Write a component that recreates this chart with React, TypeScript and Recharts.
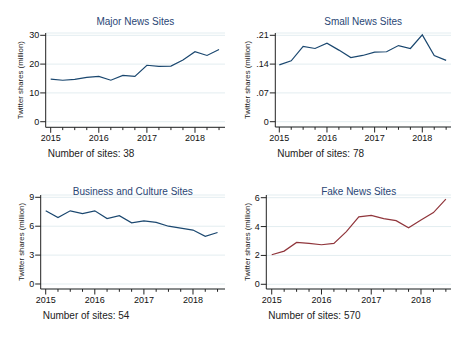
import { LineChart, Line, XAxis, YAxis, CartesianGrid } from "recharts";

const quarters = [
  2015, 2015.25, 2015.5, 2015.75, 2016, 2016.25, 2016.5, 2016.75, 2017,
  2017.25, 2017.5, 2017.75, 2018, 2018.25, 2018.5,
];

const majorShares = [14.8, 14.4, 14.7, 15.4, 15.75, 14.4, 16.1, 15.75, 19.6, 19.2, 19.3, 21.4, 24.3, 23.0, 25.1];
const smallShares = [0.138, 0.148, 0.183, 0.178, 0.191, 0.174, 0.156, 0.161, 0.169, 0.17, 0.185, 0.178, 0.211, 0.161, 0.149];
const businessShares = [7.6, 6.9, 7.6, 7.3, 7.6, 6.8, 7.1, 6.35, 6.55, 6.4, 6.0, 5.8, 5.6, 4.95, 5.35];
const fakeShares = [2.05, 2.3, 2.9, 2.83, 2.74, 2.83, 3.65, 4.67, 4.78, 4.55, 4.41, 3.92, 4.46, 4.97, 5.9];

const majorTicks = [0, 10, 20, 30];
const smallTicks = [0, 0.07, 0.14, 0.21];
const businessTicks = [0, 3, 6, 9];
const fakeTicks = [0, 2, 4, 6];

const FONT = "'Liberation Sans', Arial, sans-serif";
const BLUE = "#1a476f";
const RED = "#90353b";
const AXIS = "#222";

function XTick(props: any) {
  const { x, y, payload } = props;
  const major = Number.isInteger(payload.value);
  return (
    <g>
      <line x1={x} x2={x} y1={y} y2={y + (major ? 5.5 : 2.8)} stroke={AXIS} strokeWidth={1} />
      {major && (
        <text x={x} y={y + 11} textAnchor="middle" dominantBaseline="central" fontSize={9} fontFamily={FONT} fill="#111">
          {payload.value}
        </text>
      )}
    </g>
  );
}

function YTick(props: any) {
  const { x, y, payload, fmt } = props;
  return (
    <g>
      <line x1={x - 5.5} x2={x} y1={y} y2={y} stroke={AXIS} strokeWidth={1} />
      <text x={x - 6.5} y={y} textAnchor="end" dominantBaseline="central" fontSize={9} fontFamily={FONT} fill="#111">
        {fmt(payload.value)}
      </text>
    </g>
  );
}

interface PanelProps {
  ox: number;
  oy: number;
  title: string;
  note: string;
  values: number[];
  color: string;
  yTicks: number[];
  fmt: (v: number) => string;
  xDomain: [number, number];
  yDomain: [number, number];
  plot: { l: number; r: number; t: number; b: number };
  labelX: number;
}

function Panel({ ox, oy, title, note, values, color, yTicks, fmt, xDomain, yDomain, plot, labelX }: PanelProps) {
  const W = 234;
  const H = 170;
  const XH = 20;
  const data = quarters.map((q, i) => ({ year: q, v: values[i] }));
  const cx = (plot.l + plot.r) / 2;
  const cy = (plot.t + plot.b) / 2;
  return (
    <div style={{ position: "absolute", left: ox, top: oy, width: W, height: H }}>
      <LineChart
        width={W}
        height={H}
        data={data}
        margin={{ top: plot.t, right: W - plot.r, bottom: H - plot.b - XH, left: 0 }}
      >
        <CartesianGrid vertical={false} stroke="#e3edf0" strokeWidth={1} />
        <XAxis
          type="number"
          dataKey="year"
          domain={xDomain}
          ticks={quarters}
          allowDataOverflow
          interval={0}
          height={XH}
          tickLine={false}
          tickSize={0}
          tickMargin={0}
          axisLine={{ stroke: AXIS, strokeWidth: 1 }}
          tick={<XTick />}
        />
        <YAxis
          type="number"
          domain={yDomain}
          ticks={yTicks}
          allowDataOverflow
          interval={0}
          width={plot.l}
          tickLine={false}
          tickSize={0}
          tickMargin={0}
          axisLine={{ stroke: AXIS, strokeWidth: 1 }}
          tick={<YTick fmt={fmt} />}
        />
        <Line
          type="linear"
          dataKey="v"
          stroke={color}
          strokeWidth={1.2}
          dot={false}
          isAnimationActive={false}
        />
      </LineChart>
      <svg
        width={W}
        height={H}
        style={{ position: "absolute", left: 0, top: 0, pointerEvents: "none" }}
      >
        <text x={cx} y={21} textAnchor="middle" dominantBaseline="central" fontSize={10} fontFamily={FONT} fill="#2a4675">
          {title}
        </text>
        <text
          x={labelX}
          y={cy}
          transform={`rotate(-90 ${labelX} ${cy})`}
          textAnchor="middle"
          dominantBaseline="central"
          fontSize={7.8}
          fontFamily={FONT}
          fill="#222"
        >
          Twitter shares (million)
        </text>
        <text x={plot.l + 2} y={plot.b + 26.5} dominantBaseline="central" fontSize={10} fontFamily={FONT} fill="#222">
          {note}
        </text>
      </svg>
    </div>
  );
}

export default function App() {
  return (
    <div style={{ position: "absolute", left: 0, top: 0, width: 468, height: 340, background: "#fff" }}>
      <Panel
        ox={0}
        oy={0}
        title="Major News Sites"
        note="Number of sites: 38"
        values={majorShares}
        color={BLUE}
        yTicks={majorTicks}
        fmt={(v) => String(v)}
        xDomain={[2014.896, 2018.624]}
        yDomain={[-1.94, 30.8]}
        plot={{ l: 45.7, r: 225, t: 33, b: 127.3 }}
        labelX={21}
      />
      <Panel
        ox={234}
        oy={0}
        title="Small News Sites"
        note="Number of sites: 78"
        values={smallShares}
        color={BLUE}
        yTicks={smallTicks}
        fmt={(v) => (v === 0 ? "0" : v.toFixed(2).replace(/^0/, ""))}
        xDomain={[2014.916, 2018.602]}
        yDomain={[-0.0129, 0.2156]}
        plot={{ l: 41.3, r: 217, t: 33, b: 127 }}
        labelX={13.3}
      />
      <Panel
        ox={0}
        oy={170}
        title="Business and Culture Sites"
        note="Number of sites: 54"
        values={businessShares}
        color={BLUE}
        yTicks={businessTicks}
        fmt={(v) => String(v)}
        xDomain={[2014.898, 2018.652]}
        yDomain={[-0.52, 9.24]}
        plot={{ l: 40.7, r: 225, t: 25, b: 119 }}
        labelX={21}
      />
      <Panel
        ox={234}
        oy={170}
        title="Fake News Sites"
        note="Number of sites: 570"
        values={fakeShares}
        color={RED}
        yTicks={fakeTicks}
        fmt={(v) => String(v)}
        xDomain={[2014.891, 2018.603]}
        yDomain={[-0.326, 6.187]}
        plot={{ l: 32.3, r: 217, t: 25, b: 119 }}
        labelX={13.3}
      />
    </div>
  );
}
